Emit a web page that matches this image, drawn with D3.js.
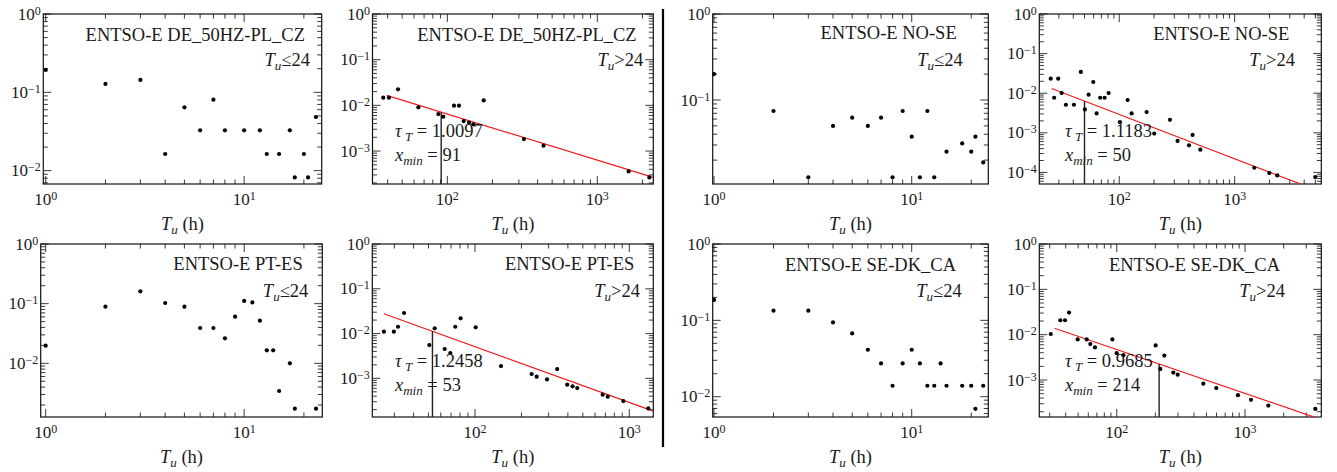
<!DOCTYPE html>
<html>
<head>
<meta charset="utf-8">
<script src="https://cdn.jsdelivr.net/npm/d3@7"></script>
<style>
  body { margin: 0; background: #fff; }
  svg text { font-family: "Liberation Serif", "Times New Roman", serif; fill: #1a1a1a; }
</style>
</head>
<body>
<div id="chart"></div>
<script>
// ---- data ----
const regions = ["DE_50HZ-PL_CZ", "NO-SE", "PT-ES", "SE-DK_CA"];

// DE_50HZ-PL_CZ
const deShortT = [1, 2, 3, 4, 5, 6, 7, 8, 10, 12, 13, 15, 17, 18, 20, 21, 23];
const deShortP = [0.193, 0.128, 0.144, 0.0163, 0.0643, 0.0327, 0.0805, 0.0327, 0.0327, 0.0327, 0.0163, 0.0163, 0.0327, 0.0082, 0.0163, 0.0082, 0.0484];
const deLongT = [37.4, 40.8, 46.9, 64.1, 87.1, 94.0, 110.8, 119.6, 128.5, 139.4, 149, 174.7, 324, 438, 1618, 2223];
const deLongP = [0.0147, 0.0147, 0.0224, 0.00904, 0.00645, 0.00565, 0.00984, 0.00984, 0.00454, 0.00417, 0.00384, 0.01286, 0.00183, 0.00131, 0.000359, 0.000265];

// NO-SE
const noShortT = [1, 2, 3, 4, 5, 6, 7, 8, 9, 10, 11, 12, 13, 15, 18, 20, 21, 23];
const noShortP = [0.2, 0.0745, 0.0126, 0.0499, 0.0623, 0.0499, 0.0623, 0.0126, 0.0745, 0.0375, 0.0126, 0.0745, 0.0126, 0.0251, 0.0313, 0.0251, 0.0375, 0.0188];
const noLongT = [25.5, 27.3, 29.6, 31.7, 34.5, 40.5, 46.5, 50.4, 54.3, 59.6, 63.7, 68.4, 74.7, 80.9, 101.4, 118.2, 128, 172.7, 201, 275, 320, 402, 432, 504, 1479, 1995, 2339, 4990];
const noLongP = [0.0233, 0.00769, 0.0233, 0.0101, 0.00511, 0.00511, 0.0344, 0.00389, 0.00916, 0.0192, 0.00308, 0.00769, 0.00769, 0.0101, 0.00186, 0.00671, 0.00308, 0.00333, 0.000957, 0.00213, 0.000624, 0.000484, 0.000885, 0.000376, 0.000131, 0.0000962, 0.0000839, 0.0000762];

// PT-ES
const ptShortT = [1, 2, 3, 4, 5, 6, 7, 8, 9, 10, 11, 12, 13, 14, 15, 17, 18, 23];
const ptShortP = [0.0198, 0.089, 0.161, 0.1026, 0.089, 0.0391, 0.0391, 0.0262, 0.0605, 0.111, 0.105, 0.0519, 0.0165, 0.0165, 0.00344, 0.01, 0.00174, 0.00174];
const ptLongT = [25.7, 29.8, 31.7, 34.7, 50.6, 54.8, 63.6, 69.2, 74.5, 80.7, 101, 147.5, 233, 251, 293, 341, 396, 429, 460, 672, 725, 915, 1328];
const ptLongP = [0.011, 0.011, 0.0142, 0.0288, 0.00554, 0.0131, 0.00452, 0.00368, 0.0142, 0.0219, 0.0138, 0.00188, 0.00125, 0.00109, 0.000948, 0.00161, 0.000721, 0.000662, 0.000607, 0.000431, 0.000389, 0.000311, 0.000213];

// SE-DK_CA
const seShortT = [1, 2, 3, 4, 5, 6, 7, 8, 9, 10, 11, 12, 13, 14, 15, 18, 20, 21, 23];
const seShortP = [0.185, 0.134, 0.134, 0.094, 0.0675, 0.0412, 0.0273, 0.0139, 0.0273, 0.0412, 0.0273, 0.0139, 0.0139, 0.0273, 0.0139, 0.0139, 0.0139, 0.00694, 0.0139];
const seLongT = [30.6, 36.3, 39.5, 42.5, 49.6, 58.3, 62.2, 67.7, 92.4, 100, 112.7, 201, 218.5, 235, 276, 298.5, 473, 597, 881, 1113, 1520, 3532];
const seLongP = [0.01035, 0.0208, 0.0208, 0.0308, 0.00787, 0.00787, 0.0062, 0.00523, 0.00787, 0.00392, 0.00353, 0.00579, 0.00176, 0.00347, 0.00146, 0.00131, 0.00083, 0.000664, 0.000464, 0.000366, 0.000274, 0.000231];

// power-law fits for the Tu>24 panels (DE, NO, PT, SE)
const fitTau = [1.0097, 1.1183, 1.2458, 0.9685];
const fitLogC = [-0.17, -0.30, 0.20, -0.39];
const fitStart = [39.4, 26, 25.7, 32.7];
const xminVals = [91, 50, 53, 214];

// ---- layout ----
const W = 1337, H = 472;
const svg = d3.select("#chart").append("svg")
  .attr("width", W).attr("height", H)
  .style("background", "#fff");

// one entry per panel, in reading order
const panels = [
  { T: deShortT, P: deShortP, reg: 0, long: false, box: { l: 43.3, r: 321.7, t: 14, b: 184 }, xd: [0.972, 24.6], yd: [0.00675, 1], title: [305, 40.5], cond: [310, 66] },
  { T: deLongT, P: deLongP, reg: 0, long: true, fit: 0, box: { l: 372.5, r: 653.3, t: 14, b: 184 }, xd: [31.7, 2362], yd: [1.9e-4, 1], title: [636.7, 40.5], cond: [643.3, 66], stat: [395, 137] },
  { T: noShortT, P: noShortP, reg: 1, long: false, box: { l: 712.7, r: 988.3, t: 14, b: 184 }, xd: [0.985, 24.4], yd: [0.01055, 1], title: [956.7, 38.5], cond: [962.7, 66] },
  { T: noLongT, P: noLongP, reg: 1, long: true, fit: 1, box: { l: 1039.3, r: 1321.3, t: 14, b: 184 }, xd: [20.3, 5629], yd: [5.1e-5, 1], title: [1289.3, 40], cond: [1295, 66], stat: [1065, 137] },
  { T: ptShortT, P: ptShortP, reg: 2, long: false, box: { l: 40.7, r: 322.3, t: 244, b: 417 }, xd: [0.944, 24.75], yd: [1.26e-3, 1], title: [302.7, 270], cond: [308.3, 296.5] },
  { T: ptLongT, P: ptLongP, reg: 2, long: true, fit: 2, box: { l: 372.3, r: 653.3, t: 244, b: 417 }, xd: [21.6, 1431], yd: [1.37e-4, 1], title: [634.3, 270], cond: [640, 296.5], stat: [395, 367] },
  { T: seShortT, P: seShortP, reg: 3, long: false, box: { l: 712.7, r: 988.3, t: 244, b: 417 }, xd: [0.985, 24.4], yd: [5.42e-3, 1], title: [956, 270.5], cond: [961.7, 296.5] },
  { T: seLongT, P: seLongP, reg: 3, long: true, fit: 3, box: { l: 1039.3, r: 1321.3, t: 244, b: 417 }, xd: [24.9, 3932], yd: [1.53e-4, 1], title: [1280, 270.5], cond: [1285, 296.5], stat: [1065, 367] }
];

function logTicks(domain) {
  const out = [];
  const k0 = Math.floor(Math.log10(domain[0])), k1 = Math.ceil(Math.log10(domain[1]));
  for (let k = k0; k <= k1; k++) {
    for (let m = 1; m <= 9; m++) {
      const v = m * Math.pow(10, k);
      if (v >= domain[0] * 0.9999 && v <= domain[1] * 1.0001) out.push({ v: v, major: m === 1, k: k });
    }
  }
  return out;
}

const majorLen = 8, minorLen = 4.5;

panels.forEach(function (p, i) {
  const b = p.box;
  const x = d3.scaleLog().domain(p.xd).range([b.l, b.r]);
  const y = d3.scaleLog().domain(p.yd).range([b.b, b.t]);
  const g = svg.append("g");

  g.append("clipPath").attr("id", "clip" + i)
    .append("rect").attr("x", b.l).attr("y", b.t).attr("width", b.r - b.l).attr("height", b.b - b.t);

  // ticks on all four sides, pointing in
  const xt = logTicks(p.xd), yt = logTicks(p.yd);
  const tg = g.append("g").attr("stroke", "#222").attr("stroke-width", 0.9);
  xt.forEach(function (t) {
    const len = t.major ? majorLen : minorLen;
    tg.append("line").attr("x1", x(t.v)).attr("x2", x(t.v)).attr("y1", b.b).attr("y2", b.b - len);
    tg.append("line").attr("x1", x(t.v)).attr("x2", x(t.v)).attr("y1", b.t).attr("y2", b.t + len);
  });
  yt.forEach(function (t) {
    const len = t.major ? majorLen : minorLen;
    tg.append("line").attr("y1", y(t.v)).attr("y2", y(t.v)).attr("x1", b.l).attr("x2", b.l + len);
    tg.append("line").attr("y1", y(t.v)).attr("y2", y(t.v)).attr("x1", b.r).attr("x2", b.r - len);
  });

  // tick labels 10^k
  xt.filter(function (t) { return t.major; }).forEach(function (t) {
    const tx = g.append("text").attr("x", x(t.v)).attr("y", b.b + 20.5)
      .attr("text-anchor", "middle").style("font-size", "17px");
    tx.append("tspan").text("10");
    tx.append("tspan").attr("dy", -5).style("font-size", "12px").text(t.k < 0 ? "\u2212" + (-t.k) : t.k);
  });
  yt.filter(function (t) { return t.major; }).forEach(function (t) {
    const tx = g.append("text").attr("x", b.l - 2.5).attr("y", y(t.v) + 5.6)
      .attr("text-anchor", "end").style("font-size", "17px");
    tx.append("tspan").text("10");
    tx.append("tspan").attr("dy", -5).style("font-size", "12px").text(t.k < 0 ? "\u2212" + (-t.k) : t.k);
  });

  // frame
  g.append("rect").attr("x", b.l).attr("y", b.t).attr("width", b.r - b.l).attr("height", b.b - b.t)
    .attr("fill", "none").attr("stroke", "#111").attr("stroke-width", 1.2);

  const inner = g.append("g").attr("clip-path", "url(#clip" + i + ")");

  // fit line and x_min marker
  if (p.long) {
    const f = p.fit;
    const pl = function (v) { return Math.pow(10, fitLogC[f]) * Math.pow(v, -fitTau[f]); };
    const xs = [fitStart[f], p.xd[1]];
    inner.append("path")
      .attr("d", d3.line().x(function (v) { return x(v); }).y(function (v) { return y(pl(v)); })(xs))
      .attr("stroke", "#ee1c1c").attr("stroke-width", 1.2).attr("fill", "none");
    inner.append("line")
      .attr("x1", x(xminVals[f])).attr("x2", x(xminVals[f]))
      .attr("y1", b.b).attr("y2", y(pl(xminVals[f])))
      .attr("stroke", "#222").attr("stroke-width", 1.4);
  }

  // points
  inner.selectAll("circle.pt").data(p.T.map(function (t, j) { return [t, p.P[j]]; }))
    .join("circle").attr("class", "pt")
    .attr("cx", function (d) { return x(d[0]); })
    .attr("cy", function (d) { return y(d[1]); })
    .attr("r", 2.1).attr("fill", "#000");

  // annotations
  g.append("text").attr("x", p.title[0]).attr("y", p.title[1]).attr("text-anchor", "end")
    .style("font-size", "18.5px").text("ENTSO-E " + regions[p.reg]);

  const c = g.append("text").attr("x", p.cond[0]).attr("y", p.cond[1]).attr("text-anchor", "end")
    .style("font-size", "18.5px");
  c.append("tspan").style("font-style", "italic").text("T");
  c.append("tspan").attr("dy", 4).style("font-style", "italic").style("font-size", "13px").text("u");
  c.append("tspan").attr("dy", -4).text(p.long ? ">24" : "\u226424");

  if (p.long) {
    const f = p.fit;
    const s1 = g.append("text").attr("x", p.stat[0]).attr("y", p.stat[1]).style("font-size", "18.5px");
    s1.append("tspan").style("font-style", "italic").text("\u03c4");
    s1.append("tspan").attr("dy", 4).style("font-style", "italic").style("font-size", "13px").text(" T");
    s1.append("tspan").attr("dy", -4).text(" = " + fitTau[f].toFixed(4));
    const s2 = g.append("text").attr("x", p.stat[0]).attr("y", p.stat[1] + 24).style("font-size", "18.5px");
    s2.append("tspan").style("font-style", "italic").text("x");
    s2.append("tspan").attr("dy", 4).style("font-style", "italic").style("font-size", "13px").text("min");
    s2.append("tspan").attr("dy", -4).text(" = " + xminVals[f]);
  }

  // x axis label
  const xl = g.append("text").attr("x", (b.l + b.r) / 2).attr("y", b.b + 46).attr("text-anchor", "middle")
    .style("font-size", "18.5px");
  xl.append("tspan").style("font-style", "italic").text("T");
  xl.append("tspan").attr("dy", 3.5).style("font-style", "italic").style("font-size", "13px").text("u");
  xl.append("tspan").attr("dy", -3.5).text(" (h)");
});

// divider between the two halves
svg.append("line").attr("x1", 663).attr("x2", 663).attr("y1", 9).attr("y2", 447)
  .attr("stroke", "#000").attr("stroke-width", 2.2);
</script>
</body>
</html>
